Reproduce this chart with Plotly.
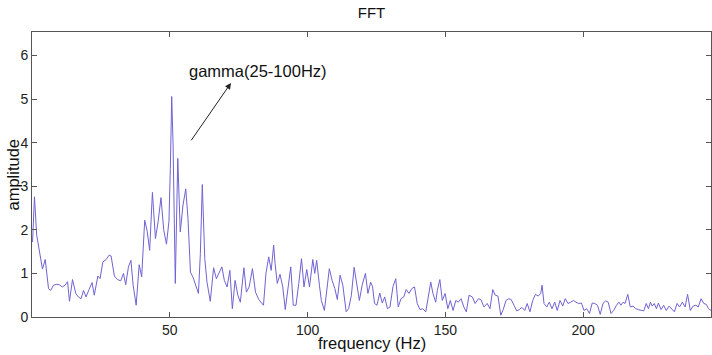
import plotly.graph_objects as go

freq_hz = [0.2, 0.9, 1.7, 2.9, 3.8, 4.8, 6.0, 6.8, 7.8, 9.0, 9.9, 11.0, 12.0, 12.9, 13.6, 14.7, 15.9, 16.8, 17.8, 18.7,
           19.6, 20.7, 21.8, 22.6, 23.9, 24.7, 25.7, 26.9, 28.0, 28.7, 29.9, 31.0, 32.2, 33.2, 34.0, 35.0, 35.9, 36.7, 37.8, 38.9,
           39.8, 40.9, 41.8, 42.7, 43.7, 44.8, 45.8, 46.8, 47.8, 48.8, 49.7, 50.2, 50.7, 51.2, 52.0, 52.9, 53.8, 54.8, 55.8, 56.6,
           57.5, 58.5, 59.4, 60.4, 61.1, 61.8, 62.7, 63.5, 64.7, 65.9, 66.9, 67.9, 68.9, 69.8, 70.8, 71.8, 72.7, 73.7, 74.7, 75.6,
           76.9, 77.8, 78.8, 80.0, 81.1, 82.3, 83.2, 84.0, 84.9, 85.9, 86.8, 87.7, 88.2, 89.0, 90.0, 91.0, 91.9, 92.9, 93.9, 94.8,
           95.8, 96.8, 97.8, 98.7, 99.7, 100.7, 101.9, 102.6, 103.3, 104.3, 105.0, 106.1, 107.0, 107.9, 108.9, 109.9, 110.8, 111.8, 112.8, 114.0,
           114.9, 115.9, 116.9, 117.8, 118.8, 119.8, 121.0, 121.9, 122.9, 123.6, 124.3, 125.2, 126.2, 127.1, 128.0, 129.0, 129.9, 131.0, 132.0, 132.9,
           133.9, 134.9, 135.8, 136.8, 137.8, 138.8, 139.8, 140.8, 141.8, 142.9, 143.8, 144.7, 145.5, 146.5, 147.1, 148.0, 148.9, 149.9, 150.9, 151.8,
           152.8, 153.8, 154.7, 155.7, 156.7, 157.6, 158.6, 159.8, 160.8, 162.0, 162.9, 164.0, 165.2, 166.2, 167.2, 168.1, 169.1, 170.1, 171.0, 172.0,
           173.0, 173.9, 174.9, 175.9, 176.8, 177.8, 178.8, 179.7, 180.7, 181.7, 182.7, 183.7, 184.6, 185.1, 185.8, 186.8, 187.7, 188.7, 189.7, 190.6,
           191.6, 192.6, 193.5, 194.5, 195.5, 196.5, 197.4, 198.4, 199.4, 200.3, 201.3, 202.3, 203.3, 204.2, 205.2, 206.2, 207.2, 208.2, 209.1, 210.1,
           211.1, 212.1, 213.0, 213.7, 214.5, 215.2, 216.2, 217.1, 218.1, 219.1, 220.0, 221.0, 222.0, 222.9, 223.7, 224.4, 225.1, 225.8, 226.6, 227.3,
           228.3, 229.2, 230.2, 231.2, 232.1, 233.1, 234.1, 235.0, 236.0, 237.0, 237.9, 238.9, 239.9, 240.9, 241.8, 242.8, 243.8, 244.7, 245.5, 246.4]

amplitude = [1.72, 2.76, 1.88, 1.46, 1.10, 1.32, 0.65, 0.61, 0.73, 0.75, 0.74, 0.69, 0.73, 0.81, 0.36, 0.86, 0.54, 0.46, 0.42, 0.61,
             0.46, 0.63, 0.79, 0.50, 0.94, 0.88, 1.26, 1.32, 1.42, 1.40, 0.94, 0.86, 0.83, 1.00, 0.74, 1.15, 1.30, 0.73, 0.27, 1.20,
             0.92, 2.22, 1.97, 1.53, 2.86, 1.80, 2.20, 2.74, 2.00, 1.67, 2.20, 3.41, 5.06, 3.95, 0.77, 3.64, 1.95, 2.57, 2.94, 2.26,
             1.03, 0.90, 0.73, 0.54, 1.46, 3.04, 1.34, 0.80, 0.36, 1.13, 0.88, 1.00, 1.15, 0.84, 0.69, 1.07, 0.19, 0.84, 0.50, 0.34,
             1.13, 0.57, 0.69, 1.11, 0.57, 0.40, 0.32, 0.27, 1.00, 1.38, 1.07, 1.65, 1.23, 0.77, 0.98, 0.69, 0.17, 0.61, 1.15, 0.27,
             0.27, 0.77, 1.34, 0.69, 1.09, 0.69, 1.32, 1.00, 1.30, 0.73, 0.38, 0.15, 0.65, 1.11, 0.84, 0.65, 0.40, 0.96, 0.73, 0.12,
             0.19, 0.50, 1.14, 0.77, 0.38, 0.73, 1.00, 0.54, 0.80, 0.69, 0.31, 0.27, 0.55, 0.32, 0.46, 0.19, 0.23, 0.70, 0.88, 0.23,
             0.42, 0.46, 0.63, 0.54, 0.65, 0.69, 0.31, 0.17, 0.19, 0.12, 0.42, 0.80, 0.54, 0.34, 0.61, 0.86, 0.38, 0.54, 0.19, 0.38,
             0.15, 0.38, 0.34, 0.42, 0.23, 0.12, 0.50, 0.46, 0.31, 0.42, 0.40, 0.23, 0.31, 0.19, 0.63, 0.50, 0.48, 0.04, 0.17, 0.38,
             0.42, 0.40, 0.27, 0.14, 0.17, 0.22, 0.15, 0.31, 0.12, 0.38, 0.52, 0.48, 0.54, 0.73, 0.31, 0.23, 0.34, 0.19, 0.34, 0.15,
             0.38, 0.25, 0.42, 0.31, 0.34, 0.38, 0.34, 0.31, 0.32, 0.15, 0.19, 0.08, 0.32, 0.31, 0.27, 0.06, 0.31, 0.37, 0.34, 0.08,
             0.15, 0.27, 0.34, 0.27, 0.34, 0.31, 0.52, 0.23, 0.25, 0.19, 0.17, 0.15, 0.14, 0.31, 0.19, 0.34, 0.25, 0.31, 0.19, 0.32,
             0.17, 0.27, 0.15, 0.25, 0.19, 0.12, 0.31, 0.23, 0.34, 0.23, 0.52, 0.15, 0.25, 0.27, 0.23, 0.42, 0.31, 0.29, 0.19, 0.15]

x_ticks = [50, 100, 150, 200]
y_ticks = [0, 1, 2, 3, 4, 5, 6]

FONT = "Liberation Sans, Arial, sans-serif"
AXC = "#555555"
TXT = "#111111"

W, H = 712, 355
L, R, T, B = 32, 1, 32, 38
pw, ph = W - L - R, H - T - B

fig = go.Figure()
fig.add_trace(go.Scatter(x=freq_hz, y=amplitude, mode="lines",
                         line=dict(color="#6f63d2", width=1), showlegend=False, hoverinfo="skip"))

# arrow + label
fig.add_annotation(x=72.2, y=5.37, ax=57.4, ay=4.02, xref="x", yref="y", axref="x", ayref="y",
                   text="", showarrow=True, arrowhead=2, arrowsize=1.2, arrowwidth=1, arrowcolor="#222222")
fig.add_annotation(x=56.4, y=5.64, xref="x", yref="y", text="gamma(25-100Hz)", showarrow=False,
                   xanchor="left", yanchor="middle", font=dict(family=FONT, size=16.5, color=TXT))

# axis titles (placed by pixel offsets from the plot area)
fig.add_annotation(x=0.5, y=-(343 - (H - B)) / ph, xref="paper", yref="paper", text="frequency (Hz)",
                   showarrow=False, xanchor="center", yanchor="middle",
                   font=dict(family=FONT, size=16.5, color=TXT))
fig.add_annotation(x=(12 - L) / pw, y=0.5, xref="paper", yref="paper", text="amplitude", showarrow=False,
                   textangle=-90, xanchor="center", yanchor="middle",
                   font=dict(family=FONT, size=16.5, color=TXT))

fig.update_layout(
    width=W, height=H,
    margin=dict(l=L, r=R, t=T, b=B, autoexpand=False),
    paper_bgcolor="white", plot_bgcolor="white",
    font=dict(family=FONT, size=14, color="#222222"),
    title=dict(text="FFT", x=0.5, xref="paper", xanchor="center", y=1 - 13 / H, yref="container",
               yanchor="middle", font=dict(family=FONT, size=15, color=TXT)),
)
fig.update_xaxes(range=[0, 246.4], tickvals=x_ticks, ticks="inside", ticklen=5, tickcolor=AXC,
                 showline=True, linecolor=AXC, linewidth=1, mirror="ticks", showgrid=False, zeroline=False,
                 automargin=False, tickfont=dict(family=FONT, size=14, color="#222222"))
fig.update_yaxes(range=[0, 6.54], tickvals=y_ticks, ticks="inside", ticklen=5, tickcolor=AXC,
                 showline=True, linecolor=AXC, linewidth=1, mirror="ticks", showgrid=False, zeroline=False,
                 automargin=False, tickfont=dict(family=FONT, size=14, color="#222222"))

fig.write_html("out.html", config={"displayModeBar": False},
               post_script="document.documentElement.style.overflow='hidden';"
                           "document.body.style.margin='0px';document.body.style.overflow='hidden';")
